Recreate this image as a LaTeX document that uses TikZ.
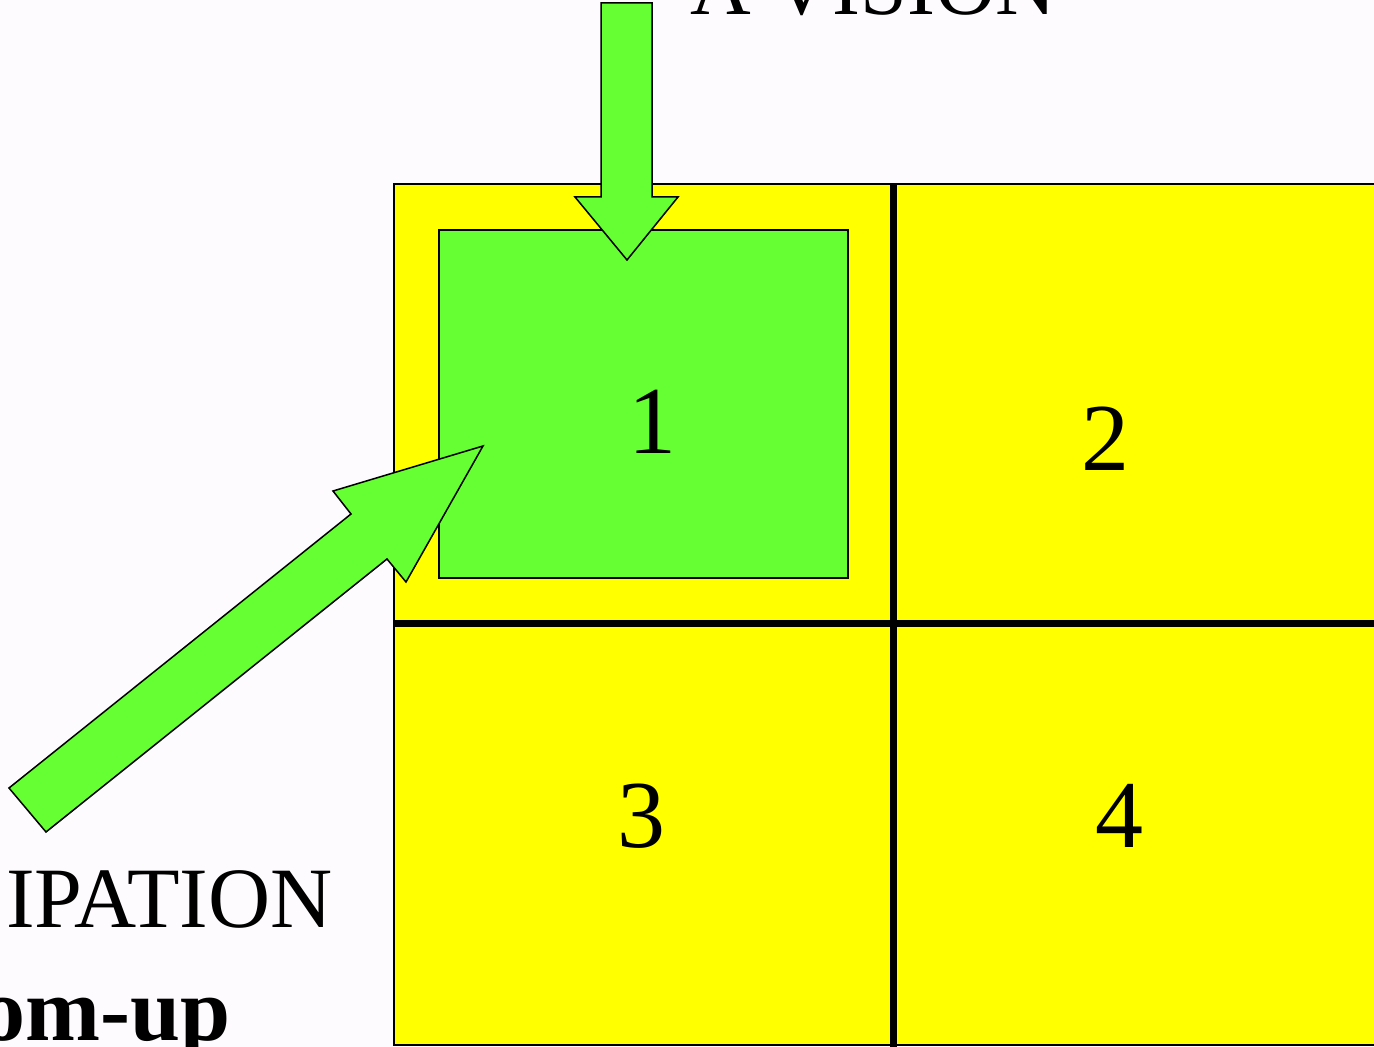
\documentclass[tikz,border=0pt]{standalone}
\usepackage{fontspec}
\setmainfont{Liberation Serif}
\definecolor{bgc}{RGB}{254,251,254}
\definecolor{grn}{RGB}{102,255,51}
\definecolor{ylw}{RGB}{255,255,0}
\tikzset{
  thinline/.style={draw=black, line width=0.75pt},
  gridline/.style={draw=black, line width=3.5pt},
  digit/.style={font=\fontsize{48}{48}\selectfont, inner sep=0pt, anchor=base},
  bigtext/.style={font=\fontsize{42}{42}\selectfont, inner sep=0pt, anchor=base east},
}
\begin{document}
\begin{tikzpicture}[x=0.5pt,y=-0.5pt]
\useasboundingbox (0,0) rectangle (1374,1047);
\clip (0,0) rectangle (1374,1047);
\fill[bgc] (0,0) rectangle (1374,1047);
% yellow grid
\path[thinline, fill=ylw] (394,184) rectangle (1400,1045);
\draw[gridline] (893,184) -- (893,1060);
\draw[gridline] (394,623) -- (1400,623);
% inner green box
\path[thinline, fill=grn] (439,230) rectangle (848,578);
% down arrow
\path[thinline, fill=grn] (601,3) -- (652,3) -- (652,197) -- (678,197) -- (627,260) -- (575,197) -- (601,197) -- cycle;
% diagonal arrow
\path[thinline, fill=grn] (9,788) -- (351,514) -- (333,491) -- (483,446) -- (406,582) -- (387,559) -- (46,832) -- cycle;
% digits
\node[digit] (n1) at (652,453) {1};
\node[digit] (n2) at (1105,470) {2};
\node[digit] (n3) at (641,847) {3};
\node[digit] (n4) at (1119,847) {4};
% texts
\node[bigtext] (vision) at (1057,15) {A VISION};
\node[bigtext, font=\fontsize{43}{43}\selectfont] (particip) at (333,927) {IPATION};
\node[bigtext, font=\fontsize{45}{45}\selectfont\bfseries] (bottomup) at (231,1040) {om-up};
\end{tikzpicture}
\end{document}
